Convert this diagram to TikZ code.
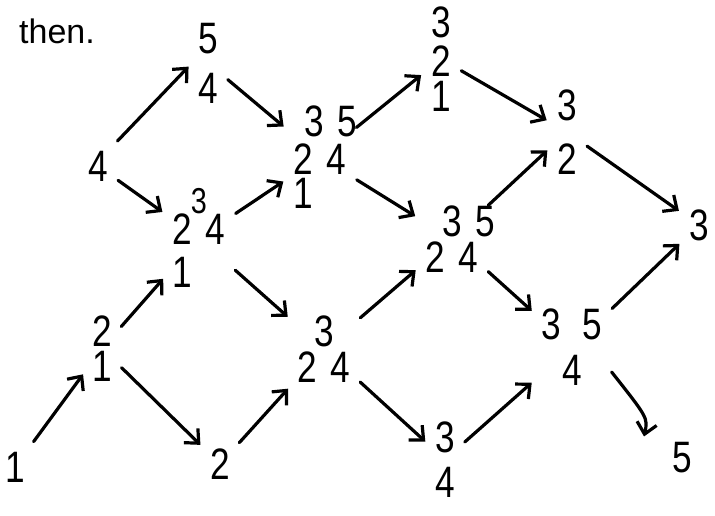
\documentclass[tikz,border=0pt]{standalone}
\usepackage{fontspec}
\setmainfont{Liberation Sans}
\newfontfamily\handfont{Liberation Sans}[FakeStretch=0.8]
\usepackage{tikz}
\usetikzlibrary{arrows.meta}

\begin{document}
\begin{tikzpicture}[x=1pt, y=-1pt,
    tab/.style={inner sep=6pt, align=center, font={\fontsize{44}{36}\handfont\spaceskip 13.5pt}},
    arr/.style={-{Straight Barb[length=11pt, width=20pt]}, line width=3.2pt, line cap=round, shorten <=5pt, shorten >=5pt}]
    \useasboundingbox (0,0) rectangle (715,515);

    % Heading
    \node[font=\fontsize{34}{40}\selectfont] (head) at (57,31) {then.};

    % Tableaux, column by column
    \node[tab] (t1) at (15,467) {1};
    \node[tab] (t4) at (98,166) {4};
    \node[tab] (t21) at (102,348.5) {2\\[-1pt]1};
    \node[tab] (t54) at (208,63) {5\\[14pt]4};
    \node[tab] (t3241) at (199,238) {{\fontsize{36}{36}\selectfont 3}\\[-5pt]2 4\\[7pt]1\hphantom{\ 4}};
    \node[tab] (t2) at (220,464) {2};
    \node[tab] (t35241) at (320,157) {\hspace*{11pt}3 5\hspace*{-11pt}\\[2pt]2 4\\[-2pt]1\hphantom{\ 4}};
    \node[tab] (t324) at (324,349) {3\\2 4};
    \node[tab] (t321) at (441,59) {3\\[3pt]2\\[-1pt]1};
    \node[tab] (t3524) at (452,239) {\hspace*{17pt}3 5\hspace*{-17pt}\\2 4};
    \node[tab] (t34) at (445,459.5) {3\\[9pt]4};
    \node[tab] (t32) at (567,132) {3\\[18pt]2};
    \node[tab] (t354) at (572,347) {3\hspace{21.5pt}5\\[10pt]4};
    \node[tab] (t3) at (699,225) {3};
    \node[tab] (t5) at (682,458) {5};

    % Covering arrows
    \draw[arr] (t1) -- (t21);
    \draw[arr] (t21) -- (t3241);
    \draw[arr] (t21) -- (t2);
    \draw[arr] (t4.north east) -- (t54.west);
    \draw[arr] (t4) -- (t3241);
    \draw[arr] (t54) -- (t35241);
    \draw[arr] (t3241) -- (t35241);
    \draw[arr] (t3241) -- (t324);
    \draw[arr] (t2) -- (t324);
    \draw[arr] (t324) -- (t3524);
    \draw[arr] (t324) -- (t34);
    \draw[arr] (t35241) -- (t321);
    \draw[arr] (t35241) -- (t3524);
    \draw[arr] (t321) -- (t32);
    \draw[arr] (t3524) -- (t32);
    \draw[arr] (t3524) -- (t354);
    \draw[arr] (t34) -- (t354);
    \draw[arr] (t32) -- (t3);
    \draw[arr] (t354) -- (t3);
    \draw[arr, shorten >=0pt] (t354.-30) .. controls (648,418) .. ([xshift=-22pt]t5.north west);
\end{tikzpicture}
\end{document}
